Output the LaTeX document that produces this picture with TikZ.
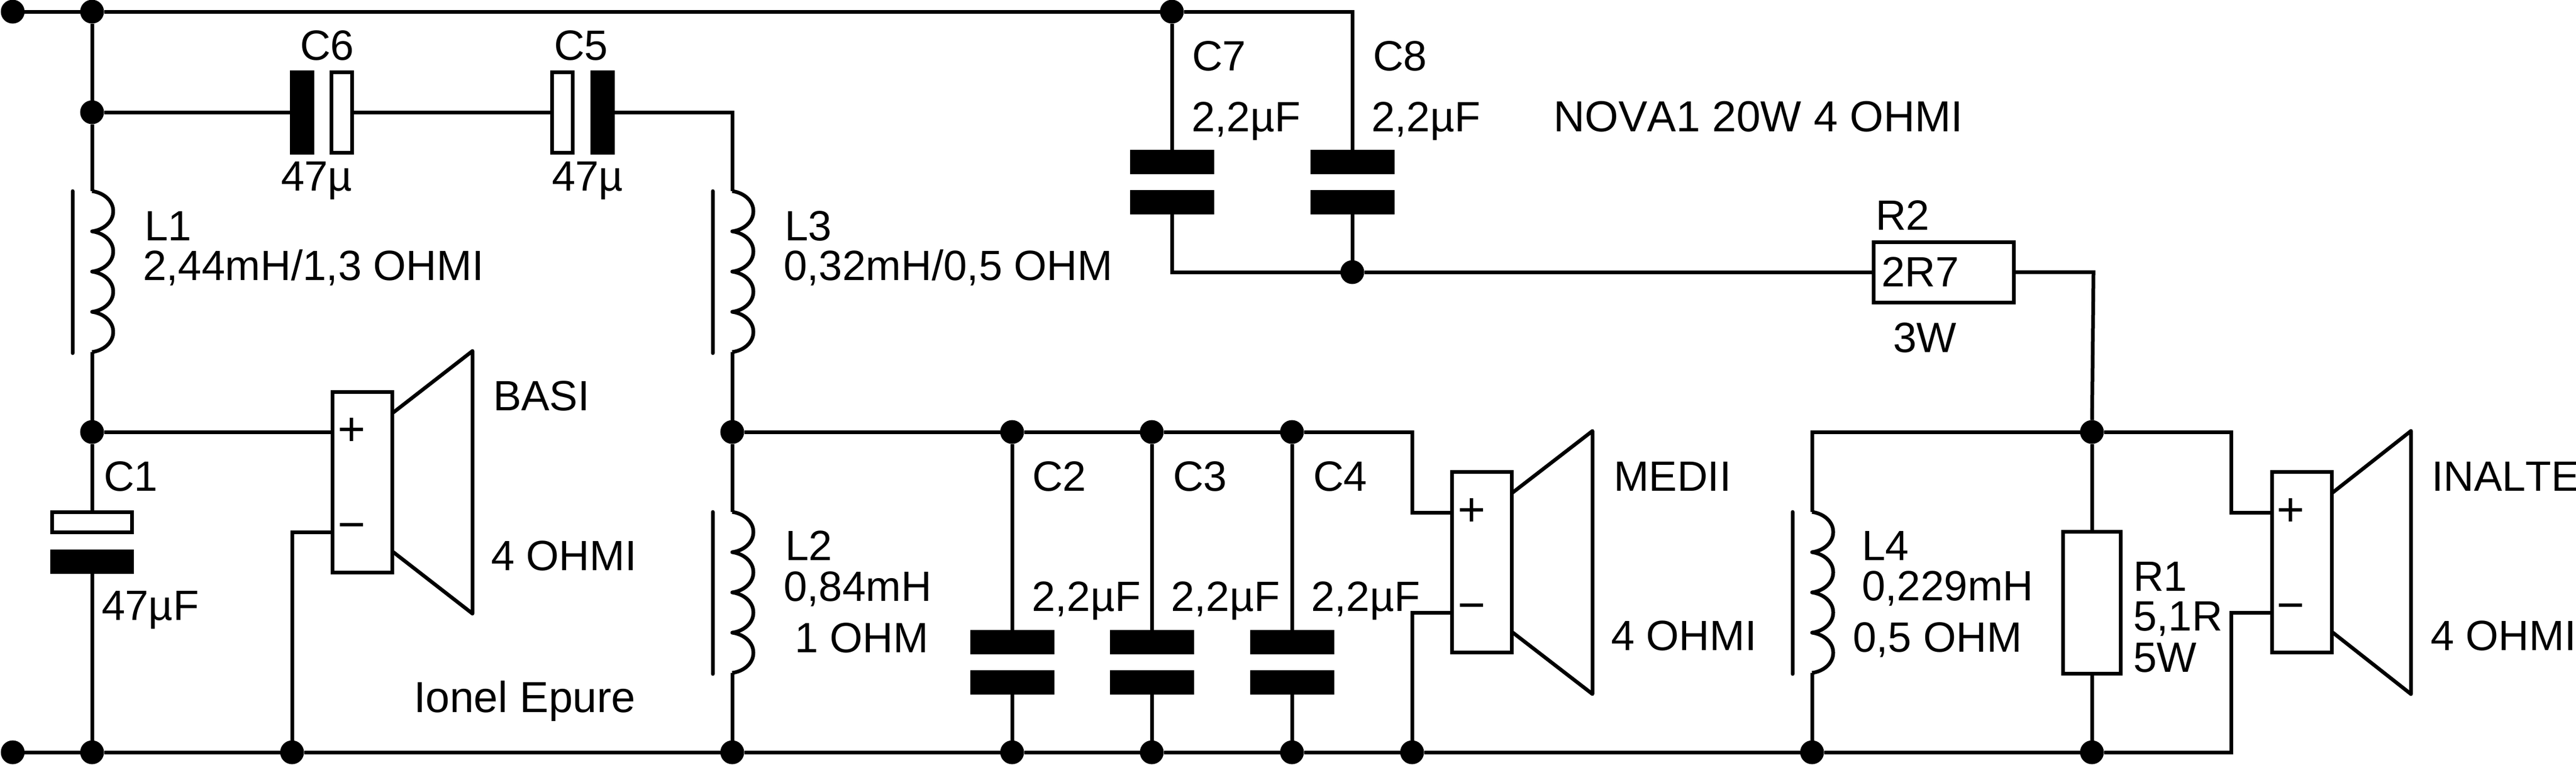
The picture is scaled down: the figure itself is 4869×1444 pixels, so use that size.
\documentclass[tikz,border=0pt]{standalone}
\usepackage{fontspec}
\setmainfont[Kerning=Off]{Liberation Sans}
\tikzset{
  wire/.style={line width=0.7pt,black,line join=miter},
  dotn/.style={circle,fill=black,inner sep=0pt,outer sep=0pt,minimum size=4.5pt},
  lbl/.style={anchor=base west,inner sep=0pt,outer sep=0pt,font=\fontsize{8}{9}\selectfont},
  lblbig/.style={lbl,font=\fontsize{8.2}{9}\selectfont},
  sgn/.style={inner sep=0pt,outer sep=0pt,font=\fontsize{9}{9}\selectfont},
  hsolid/.style={rectangle,fill=black,inner sep=0pt,outer sep=0pt,minimum width=15.9pt,minimum height=4.6pt},
  vsolid/.style={rectangle,fill=black,inner sep=0pt,outer sep=0pt,minimum width=4.6pt,minimum height=15.9pt},
  hopen/.style={rectangle,draw=black,line width=0.7pt,fill=white,inner sep=0pt,outer sep=0pt,minimum width=15.1pt,minimum height=3.8pt},
  vopen/.style={rectangle,draw=black,line width=0.7pt,fill=white,inner sep=0pt,outer sep=0pt,minimum width=3.9pt,minimum height=15.2pt},
  spbox/.style={rectangle,draw=black,line width=0.7pt,inner sep=0pt,outer sep=0pt,minimum width=11.3pt,minimum height=34.1pt},
  resv/.style={rectangle,draw=black,line width=0.7pt,inner sep=0pt,outer sep=0pt,minimum width=10.9pt,minimum height=26.8pt},
  resh/.style={rectangle,draw=black,line width=0.7pt,inner sep=0pt,outer sep=0pt,minimum width=26.5pt,minimum height=11.4pt},
  cone/.style={line width=0.7pt,black,line join=round},
  coilpic/.pic={
    \coordinate (-top) at (0,0);
    \coordinate (-bot) at (0,304);
    \draw[line width=0.7pt,black,line join=round]
      (0,0) .. controls (22,3) and (40,18) .. (40,38) .. controls (40,58) and (22,73) .. (0,76)
      .. controls (22,79) and (40,94) .. (40,114) .. controls (40,134) and (22,149) .. (0,152)
      .. controls (22,155) and (40,170) .. (40,190) .. controls (40,210) and (22,225) .. (0,228)
      .. controls (22,231) and (40,246) .. (40,266) .. controls (40,286) and (22,301) .. (0,304);
    \draw[line width=0.7pt,black,line cap=round] (-37,0) -- (-37,306);
  }
}
\begin{document}
\begin{tikzpicture}[x=0.1pt,y=-0.1pt]
\useasboundingbox (0,0) rectangle (4869,1444);
% junctions
\node[dotn] (T0) at (24,22) {};
\node[dotn] (T1) at (174,22) {};
\node[dotn] (T2) at (2215,22) {};
\coordinate (T3) at (2556,22);
\node[dotn] (N1) at (174,212) {};
\coordinate (N2) at (1384,212);
\node[dotn] (N3) at (174,816) {};
\node[dotn] (N4) at (1384,816) {};
\node[dotn] (N5) at (1913,816) {};
\node[dotn] (N6) at (2177,816) {};
\node[dotn] (N7) at (2442,816) {};
\coordinate (N8) at (2669,816);
\coordinate (N9) at (2669,968);
\coordinate (N10) at (3425,816);
\node[dotn] (N11) at (3954,816) {};
\coordinate (N12) at (4217,816);
\coordinate (N13) at (4217,968);
\coordinate (N14) at (2215,514);
\node[dotn] (N15) at (2556,514) {};
\coordinate (N16) at (3957,514);
\node[dotn] (B0) at (24,1421) {};
\node[dotn] (B1) at (174,1421) {};
\node[dotn] (B2) at (552,1421) {};
\node[dotn] (B3) at (1384,1421) {};
\node[dotn] (B4) at (1913,1421) {};
\node[dotn] (B5) at (2177,1421) {};
\node[dotn] (B6) at (2442,1421) {};
\node[dotn] (B7) at (2669,1421) {};
\node[dotn] (B8) at (3425,1421) {};
\node[dotn] (B9) at (3954,1421) {};
\coordinate (B10) at (4217,1421);
\coordinate (M1) at (552,1005);
\coordinate (M2) at (2669,1157);
\coordinate (M3) at (4217,1157);
% capacitors
\node[vsolid] (C6s) at (571,212) {};
\node[vopen] (C6o) at (646,212) {};
\node[vopen] (C5o) at (1063,212) {};
\node[vsolid] (C5s) at (1139,212) {};
\node[hopen] (C1o) at (174,986) {};
\node[hsolid] (C1s) at (174,1061) {};
\node[hsolid] (C2a) at (1913,1213) {};
\node[hsolid] (C2b) at (1913,1289) {};
\node[hsolid] (C3a) at (2177,1213) {};
\node[hsolid] (C3b) at (2177,1289) {};
\node[hsolid] (C4a) at (2442,1213) {};
\node[hsolid] (C4b) at (2442,1289) {};
\node[hsolid] (C7a) at (2215,306) {};
\node[hsolid] (C7b) at (2215,382) {};
\node[hsolid] (C8a) at (2556,306) {};
\node[hsolid] (C8b) at (2556,382) {};
% resistors
\node[resh] (R2) at (3673.5,514) {};
\node[resv] (R1) at (3954,1138) {};
% coils
\pic (L1) at (174,361) {coilpic};
\pic (L3) at (1384,361) {coilpic};
\pic (L2) at (1384,967) {coilpic};
\pic (L4) at (3425,967) {coilpic};
% speakers
\node[spbox] (S1) at (684.5,910.5) {};
\node[spbox] (S2) at (2801,1061.5) {};
\node[spbox] (S3) at (4351,1061.5) {};
\coordinate (S1a) at (741,781); \coordinate (S1b) at (893,663); \coordinate (S1c) at (893,1159); \coordinate (S1d) at (741,1041);
\coordinate (S2a) at (2857,932); \coordinate (S2b) at (3010,814); \coordinate (S2c) at (3010,1311); \coordinate (S2d) at (2857,1193);
\coordinate (S3a) at (4407,932); \coordinate (S3b) at (4557,814); \coordinate (S3c) at (4557,1311); \coordinate (S3d) at (4407,1193);
\draw[cone] (S1a) -- (S1b) -- (S1c) -- (S1d);
\draw[cone] (S2a) -- (S2b) -- (S2c) -- (S2d);
\draw[cone] (S3a) -- (S3b) -- (S3c) -- (S3d);
\coordinate (S1p) at (628,816); \coordinate (S1m) at (628,1005);
\coordinate (S2p) at (2745,968); \coordinate (S2m) at (2745,1157);
\coordinate (S3p) at (4295,968); \coordinate (S3m) at (4295,1157);
\node[sgn] (S1ps) at (665,816) {+};
\node[sgn] (S1ms) at (665,1005) {−};
\node[sgn] (S2ps) at (2782,968) {+};
\node[sgn] (S2ms) at (2782,1157) {−};
\node[sgn] (S3ps) at (4330,968) {+};
\node[sgn] (S3ms) at (4330,1157) {−};
% wires
\draw[wire] (T0) -- (T1) -- (T2) -- (T3) -- (C8a.north);
\draw[wire] (T2) -- (C7a.north);
\draw[wire] (T1) -- (N1) -- (L1-top);
\draw[wire] (L1-bot) -- (N3) -- (C1o.north);
\draw[wire] (C1s.south) -- (B1);
\draw[wire] (N1) -- (C6s.west);
\draw[wire] (C6o.east) -- (C5o.west);
\draw[wire] (C5s.east) -- (N2) -- (L3-top);
\draw[wire] (L3-bot) -- (N4) -- (L2-top);
\draw[wire] (L2-bot) -- (B3);
\draw[wire] (N3) -- (S1p);
\draw[wire] (S1m) -- (M1) -- (B2);
\draw[wire] (N4) -- (N5) -- (N6) -- (N7) -- (N8) -- (N9) -- (S2p);
\draw[wire] (N5) -- (C2a.north);
\draw[wire] (N6) -- (C3a.north);
\draw[wire] (N7) -- (C4a.north);
\draw[wire] (C2b.south) -- (B4);
\draw[wire] (C3b.south) -- (B5);
\draw[wire] (C4b.south) -- (B6);
\draw[wire] (S2m) -- (M2) -- (B7);
\draw[wire] (B0) -- (B1) -- (B2) -- (B3) -- (B4) -- (B5) -- (B6) -- (B7) -- (B8) -- (B9) -- (B10) -- (M3) -- (S3m);
\draw[wire] (C7b.south) -- (N14) -- (N15) -- (R2.west);
\draw[wire] (C8b.south) -- (N15);
\draw[wire] (R2.east) -- (N16) -- (N11);
\draw[wire] (L4-top) -- (N10) -- (N11) -- (N12) -- (N13) -- (S3p);
\draw[wire] (L4-bot) -- (B8);
\draw[wire] (N11) -- (R1.north);
\draw[wire] (R1.south) -- (B9);
% labels
\node[lbl] (t1) at (567,113) {C6};
\node[lbl] (t2) at (1047,113) {C5};
\node[lbl] (t3) at (531,360) {47µ};
\node[lbl] (t4) at (1043,360) {47µ};
\node[lbl] (t5) at (273,454) {L1};
\node[lbl] (t6) at (270,529) {2,44mH/1,3 OHMI};
\node[lbl] (t7) at (1483,454) {L3};
\node[lbl] (t8) at (1481,529) {0,32mH/0,5 OHM};
\node[lbl] (t9) at (932,775) {BASI};
\node[lbl] (t10) at (928,1077) {4 OHMI};
\node[lbl] (t11) at (196,927) {C1};
\node[lbl] (t12) at (192,1171) {47µF};
\node[lblbig] (t13) at (782,1345) {Ionel Epure};
\node[lbl] (t14) at (1484,1058) {L2};
\node[lbl] (t15) at (1481,1135) {0,84mH};
\node[lbl] (t16) at (1502,1232) {1 OHM};
\node[lbl] (t17) at (1951,927) {C2};
\node[lbl] (t18) at (2217,927) {C3};
\node[lbl] (t19) at (2482,927) {C4};
\node[lbl] (t20) at (1950,1154) {2,2µF};
\node[lbl] (t21) at (2213,1154) {2,2µF};
\node[lbl] (t22) at (2478,1154) {2,2µF};
\node[lbl] (t23) at (3050,927) {MEDII};
\node[lbl] (t24) at (3045,1228) {4 OHMI};
\node[lbl] (t25) at (4596,927) {INALTE};
\node[lbl] (t26) at (4594,1228) {4 OHMI};
\node[lbl] (t27) at (3519,1058) {L4};
\node[lbl] (t28) at (3519,1134) {0,229mH};
\node[lbl] (t29) at (3502,1231) {0,5 OHM};
\node[lbl] (t30) at (4032,1116) {R1};
\node[lbl] (t31) at (4032,1191) {5,1R};
\node[lbl] (t32) at (4032,1269) {5W};
\node[lbl] (t33) at (2253,133) {C7};
\node[lbl] (t34) at (2595,133) {C8};
\node[lbl] (t35) at (2252,248) {2,2µF};
\node[lbl] (t36) at (2592,248) {2,2µF};
\node[lblbig] (t37) at (2936,248) {NOVA1 20W 4 OHMI};
\node[lbl] (t38) at (3545,434) {R2};
\node[lbl] (t39) at (3556,541) {2R7};
\node[lbl] (t40) at (3578,665) {3W};
\end{tikzpicture}
\end{document}
